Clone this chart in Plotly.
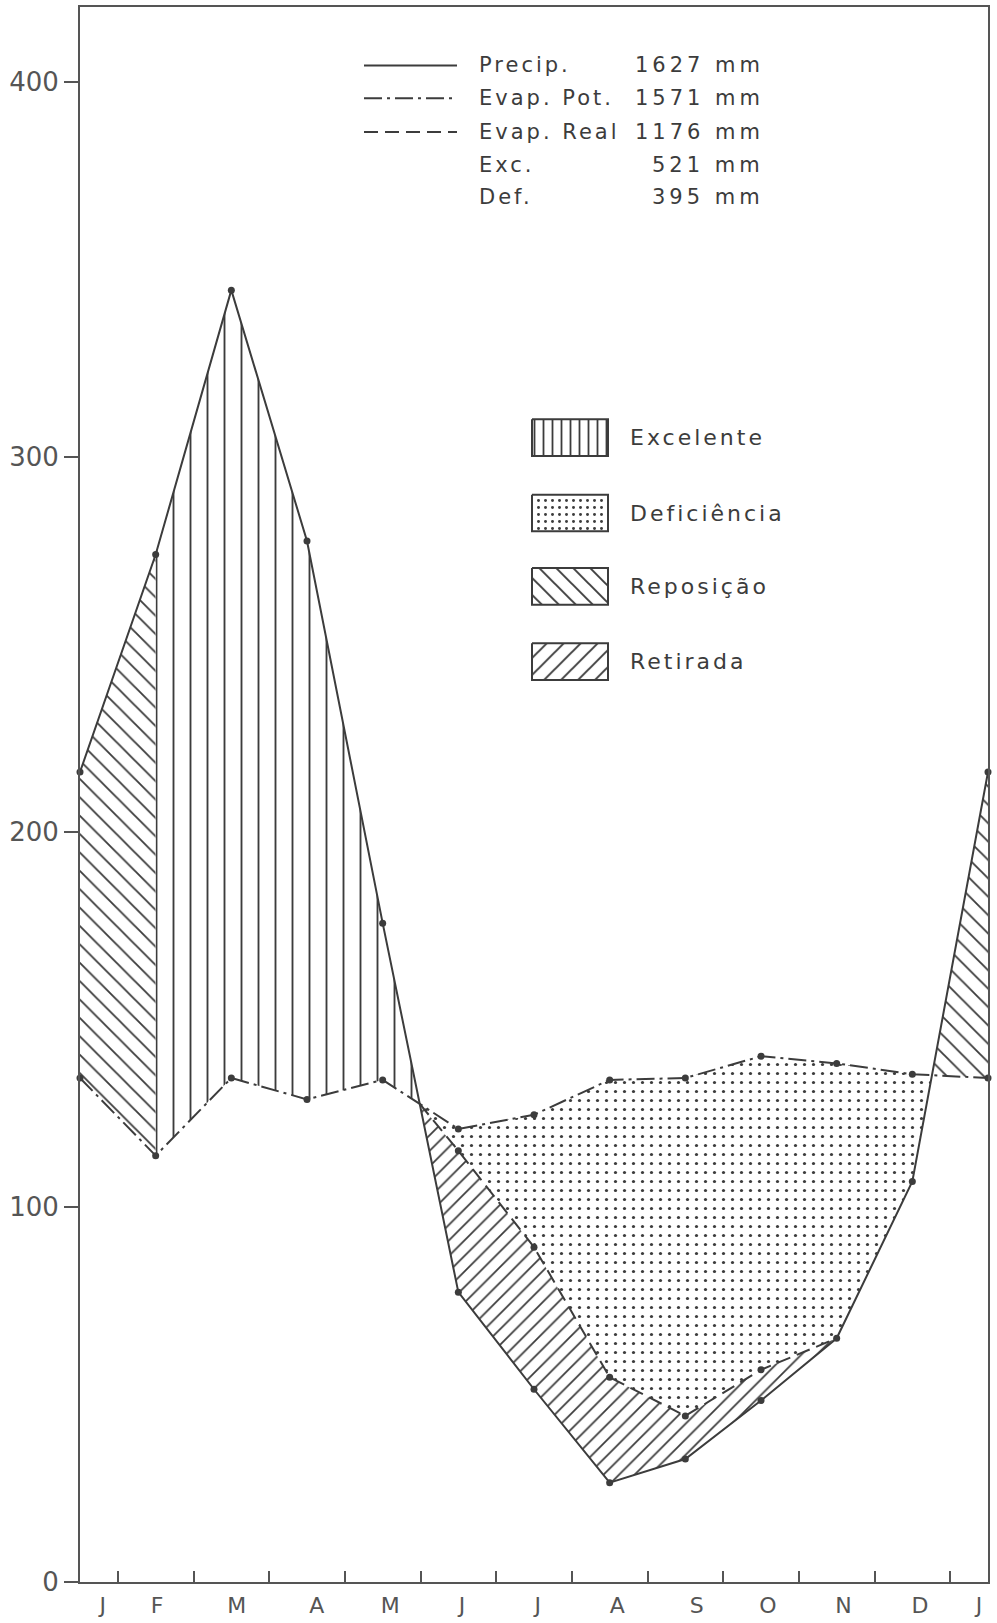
import numpy as np
import plotly.graph_objects as go

# ---------------- data ----------------
months = ["J", "F", "M", "A", "M", "J", "J", "A", "S", "O", "N", "D", "J"]
precip = [216.0, 274.0, 344.5, 277.6, 175.7, 77.3, 51.4, 26.5, 32.8, 48.4, 65.0, 106.8]
evap_pot = [134.4, 113.7, 134.4, 128.7, 133.9, 120.8, 124.6, 133.9, 134.4, 140.2, 138.3, 135.4]
evap_real = [134.4, 113.7, 134.4, 128.7, 133.9, 115.0, 89.3, 54.6, 44.3, 56.6, 65.0, 106.8]
y_ticks = [0, 100, 200, 300, 400]
summary_labels = ["Precip.", "Evap. Pot.", "Evap. Real", "Exc.", "Def."]
summary_values = ["1627 mm", "1571 mm", "1176 mm", "521 mm", "395 mm"]
area_labels = ["Excelente", "Deficiência", "Reposição", "Retirada"]
excess_start = 1      # month index where recharge ends and excess begins (Feb)
withdrawal_end = 10   # month index where withdrawal ends (Nov)

# ---------------- derived ----------------
P = np.array(precip + [precip[0]])
EP = np.array(evap_pot + [evap_pot[0]])
ER = np.array(evap_real + [evap_real[0]])
X = np.arange(13)


def crossing(i):
    d0 = P[i] - EP[i]
    d1 = P[i + 1] - EP[i + 1]
    t = d0 / (d0 - d1)
    return i + t, P[i] + t * (P[i + 1] - P[i])


diff = P - EP
cross_idx = [i for i in range(12) if np.sign(diff[i]) != np.sign(diff[i + 1])]
c1x, c1y = crossing(cross_idx[0])
c2x, c2y = crossing(cross_idx[1])
i1 = cross_idx[0]  # last month before first crossing
i2 = cross_idx[1]

INK = "#3c3c3c"
FONT = "DejaVu Sans"

fig = go.Figure()


def area(xs, ys, shape, size, solidity):
    fig.add_trace(go.Scatter(
        x=xs, y=ys, mode="lines", fill="toself", line=dict(width=0, color="rgba(0,0,0,0)"),
        fillcolor="rgba(0,0,0,0)",
        fillpattern=dict(shape=shape, size=size, solidity=solidity, fgcolor=INK,
                         bgcolor="white", fillmode="replace"),
        hoverinfo="skip", showlegend=False))


# Reposição (left)
area([X[0], X[excess_start], X[excess_start], X[0]],
     [P[0], P[excess_start], EP[excess_start], EP[0]], "\\", 13, 0.14)
# Excelente
xs = list(X[excess_start:i1 + 1]) + [c1x] + list(X[excess_start:i1 + 1][::-1])
ys = list(P[excess_start:i1 + 1]) + [c1y] + list(EP[excess_start:i1 + 1][::-1])
area(xs, ys, "|", 17, 0.11)
# Deficiência
xs = [c1x] + list(X[i1 + 1:i2 + 1]) + [c2x] + list(X[i1 + 1:i2 + 1][::-1])
ys = [c1y] + list(EP[i1 + 1:i2 + 1]) + [c2y] + list(ER[i1 + 1:i2 + 1][::-1])
area(xs, ys, ".", 9, 0.1)
# Retirada
xs = [c1x] + list(X[i1 + 1:withdrawal_end + 1]) + list(X[i1 + 1:withdrawal_end + 1][::-1])
ys = [c1y] + list(ER[i1 + 1:withdrawal_end + 1]) + list(P[i1 + 1:withdrawal_end + 1][::-1])
area(xs, ys, "/", 11, 0.16)
# Reposição (right)
area([c2x, X[12], X[12]], [c2y, P[12], EP[12]], "\\", 13, 0.14)

# Lines
fig.add_trace(go.Scatter(x=X, y=EP, mode="lines+markers",
                         line=dict(color=INK, width=2, dash="18px,5px,3px,5px"),
                         marker=dict(size=7, color=INK), cliponaxis=False,
                         hoverinfo="skip", showlegend=False))
fig.add_trace(go.Scatter(x=[c1x] + list(X[i1 + 1:withdrawal_end + 1]),
                         y=[c1y] + list(ER[i1 + 1:withdrawal_end + 1]),
                         mode="lines", line=dict(color=INK, width=2, dash="14px,7px"),
                         hoverinfo="skip", showlegend=False))
fig.add_trace(go.Scatter(x=X[i1 + 1:withdrawal_end], y=ER[i1 + 1:withdrawal_end],
                         mode="markers", marker=dict(size=7, color=INK),
                         hoverinfo="skip", showlegend=False))
fig.add_trace(go.Scatter(x=X, y=P, mode="lines+markers",
                         line=dict(color=INK, width=2),
                         marker=dict(size=7, color=INK), cliponaxis=False,
                         hoverinfo="skip", showlegend=False))

# ---------------- legend decorations (pixel-like inset axes) ----------------
LX = "x3"
LY = "y3"
box_left, box_right = 532, 608
box_tops = [421, 497, 571, 647]
box_h = 37
box_styles = [("|", 9, 0.2), (".", 7, 0.14), ("\\", 12, 0.16), ("/", 12, 0.16)]
for top, (shape, size, sol), lab in zip(box_tops, box_styles, area_labels):
    fig.add_trace(go.Scatter(
        x=[box_left, box_right, box_right, box_left, box_left],
        y=[top, top, top + box_h, top + box_h, top],
        xaxis=LX, yaxis=LY, mode="lines", fill="toself",
        line=dict(color=INK, width=2), fillcolor="rgba(0,0,0,0)",
        fillpattern=dict(shape=shape, size=size, solidity=sol, fgcolor=INK,
                         bgcolor="white", fillmode="replace"),
        hoverinfo="skip", showlegend=False))
    fig.add_annotation(x=628, y=top + box_h / 2, xref=LX, yref=LY,
                       text='<span style="letter-spacing:3px">%s</span>' % lab,
                       showarrow=False, xanchor="left", yanchor="middle",
                       font=dict(family=FONT, size=22, color=INK))

row_y = [64, 97, 131, 164, 197]
dashes = ["solid", "18px,5px,3px,5px", "14px,7px"]
for k, (lab, val) in enumerate(zip(summary_labels, summary_values)):
    if k < 3:
        fig.add_shape(type="line", x0=364, x1=457, y0=row_y[k], y1=row_y[k],
                      xref=LX, yref=LY, line=dict(color=INK, width=2, dash=dashes[k]))
    fig.add_annotation(x=477, y=row_y[k], xref=LX, yref=LY,
                       text='<span style="letter-spacing:3px">%s</span>' % lab,
                       showarrow=False, xanchor="left", yanchor="middle",
                       font=dict(family=FONT, size=21, color=INK))
    fig.add_annotation(x=766, y=row_y[k], xref=LX, yref=LY,
                       text='<span style="letter-spacing:4px">%s</span>' % val,
                       showarrow=False, xanchor="right", yanchor="middle",
                       font=dict(family=FONT, size=21, color=INK))

# ---------------- layout ----------------
label_offsets = [0.3, 0.02, 0.07, 0.13, 0.1, 0.05, 0.05, 0.1, 0.15, 0.09, 0.09, 0.1, -0.12]
tickpos = [i + o for i, o in enumerate(label_offsets)]

fig.update_layout(
    width=997, height=1623,
    margin=dict(l=80, r=9, t=5, b=29, pad=0),
    paper_bgcolor="white", plot_bgcolor="white",
    font=dict(family=FONT, color="#555"),
    showlegend=False,
    xaxis=dict(range=[0, 12], tickvals=tickpos, ticktext=months, ticks="",
               showline=True, mirror=True, linecolor="#555", linewidth=2,
               showgrid=False, zeroline=False, tickfont=dict(size=22, color="#555"),
               ticklabelstandoff=3, fixedrange=True),
    xaxis2=dict(range=[0, 12], overlaying="x", anchor="y", side="bottom",
                tickvals=[i + 0.5 for i in range(12)], ticks="inside", ticklen=11,
                tickwidth=2, tickcolor="#555", showticklabels=False,
                showline=False, showgrid=False, zeroline=False),
    yaxis=dict(range=[0, 420], tickvals=y_ticks, ticks="outside", ticklen=14,
               tickwidth=2, tickcolor="#555", showline=True, mirror=True,
               linecolor="#555", linewidth=2, showgrid=False, zeroline=False,
               tickfont=dict(size=26, color="#555")),
    xaxis3=dict(range=[80, 988], overlaying="x", anchor="y3", visible=False),
    yaxis3=dict(range=[1594, 5], overlaying="y", anchor="x3", visible=False),
)
# ensure the tick-only axis exists
fig.add_trace(go.Scatter(x=[0.5], y=[-10], xaxis="x2", mode="markers",
                         marker=dict(size=1, color="rgba(0,0,0,0)"),
                         hoverinfo="skip", showlegend=False))

fig.write_html("out.html", config={"displayModeBar": False},
               post_script="document.body.style.margin='0';document.body.style.overflow='hidden';")
